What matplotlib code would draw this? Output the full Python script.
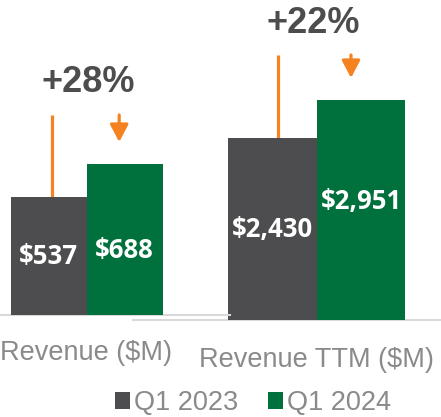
"""Q1 revenue comparison: two small bar panels with growth callouts."""

import matplotlib

matplotlib.use("Agg")
import matplotlib.pyplot as plt
from matplotlib.patches import Patch

# data
SERIES = ["Q1 2023", "Q1 2024"]
REVENUE = [537, 688]
REVENUE_TTM = [2430, 2951]
PANEL_LABELS = ["Revenue ($M)", "Revenue TTM ($M)"]
GROWTH = ["+28%", "+22%"]
VALUE_LABELS = [["$537", "$688"], ["$2,430", "$2,951"]]

GRAY = "#4d4d4f"
GREEN = "#00703c"
ORANGE = "#f58220"
AXIS_GRAY = "#d9d9d9"
TEXT_GRAY = "#8a8a8a"
DARK_TEXT = "#4d4d4f"

W, H = 441, 417
plt.rcParams["font.family"] = ["Liberation Sans", "DejaVu Sans"]

fig = plt.figure(figsize=(W / 100, H / 100), dpi=100)


def px_axes(left, bottom, width, height):
    # pixel box (bottom measured from top of image) -> figure fraction
    return fig.add_axes([left / W, (H - bottom) / H, width / W, height / H])


# panel layout in pixels: left, baseline, width, pixels per bar slot, y max
panels = [
    dict(vals=REVENUE, left=0, base=315, width=230, slot=76, x0=48.5, ymax=1435,
         label_frac=[0.5, 0.43], line=(0.046, 911), arrow=(0.93, 911, 788),
         growth_xy=(0.52, 1057), cat_y=353),
    dict(vals=REVENUE_TTM, left=133, base=320, width=308, slot=88.5, x0=139.5, ymax=4284,
         label_frac=[0.5, 0.537], line=(0.062, 3548), arrow=(0.887, 3548, 3240),
         growth_xy=(0.458, 3976), cat_y=360),
]

for i, p in enumerate(panels):
    ax = px_axes(p["left"], p["base"], p["width"], p["base"])
    xmin = -p["x0"] / p["slot"]
    ax.set_xlim(xmin, xmin + p["width"] / p["slot"])
    ax.set_ylim(0, p["ymax"])
    ax.set_zorder(2 - i)
    ax.patch.set_alpha(0)

    bars = ax.bar([0, 1], p["vals"], width=1.0, color=[GRAY, GREEN], zorder=3)
    for j, (b, lab) in enumerate(zip(bars, VALUE_LABELS[i])):
        ax.text(b.get_x() + b.get_width() / 2, b.get_height() * p["label_frac"][j], lab,
                ha="center", va="center", color="white", fontsize=18.5,
                fontweight="bold", family=["Open Sans", "DejaVu Sans"], zorder=4)

    # growth callout
    lx, ly = p["line"]
    ax.plot([lx, lx], [p["vals"][0], ly], color=ORANGE, lw=2.3, zorder=2,
            solid_capstyle="butt")
    ax_x, ay0, ay1 = p["arrow"]
    ax.annotate("", xy=(ax_x, ay1), xytext=(ax_x, ay0),
                arrowprops=dict(arrowstyle="-|>,head_length=1.05,head_width=0.55",
                                color=ORANGE, lw=2.3, shrinkA=0, shrinkB=0,
                                mutation_scale=10))
    gx, gy = p["growth_xy"]
    ax.text(gx, gy, GROWTH[i], ha="center", va="center", fontsize=26,
            fontweight="bold", color=DARK_TEXT)

    for side in ["top", "right", "left"]:
        ax.spines[side].set_visible(False)
    ax.spines["bottom"].set_color(AXIS_GRAY)
    ax.spines["bottom"].set_linewidth(1.5)
    ax.set_yticks([])
    ax.set_xticks([])

    fig.text((p["left"] + p["x0"] + 0.5 * p["slot"]) / W, 1 - p["cat_y"] / H,
             PANEL_LABELS[i], ha="center", va="center", fontsize=19.5, color=TEXT_GRAY)

handles = [Patch(facecolor=c, edgecolor="none") for c in [GRAY, GREEN]]
fig.legend(handles, SERIES, loc="center", bbox_to_anchor=(253 / W, 1 - 403 / H),
           ncol=2, frameon=False, fontsize=19.5, labelcolor=TEXT_GRAY,
           handlelength=0.55, handleheight=0.55, handletextpad=0.15,
           columnspacing=1.1, borderpad=0)

fig.savefig("out.png", dpi=100)
